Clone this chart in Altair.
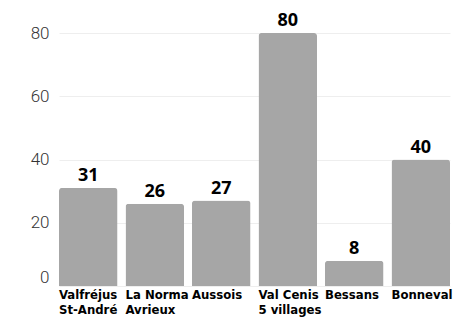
import altair as alt
import pandas as pd

stations = ["Valfréjus|St-André", "La Norma|Avrieux", "Aussois", "Val Cenis|5 villages", "Bessans", "Bonneval"]
values = [31, 26, 27, 80, 8, 40]

df = pd.DataFrame({"station": stations, "value": values})

xscale = alt.Scale(paddingInner=0.12, paddingOuter=0)

bars = alt.Chart(df).mark_bar(color="#a6a6a6", cornerRadiusTopLeft=3, cornerRadiusTopRight=3).encode(
    x=alt.X("station:N", sort=None, title=None, scale=xscale,
            axis=alt.Axis(labels=False, ticks=False, domain=False, grid=False)),
    y=alt.Y(
        "value:Q",
        title=None,
        scale=alt.Scale(domain=[0, 80], nice=False),
        axis=alt.Axis(
            values=[0, 20, 40, 60, 80],
            labelFont="Roboto",
            labelFontWeight=300,
            labelFontSize=17,
            labelColor="#333333",
            labelPadding=10,
            labelBaseline={"condition": {"test": "datum.value === 0", "value": "bottom"}, "value": "middle"},
            ticks=False,
            domain=False,
            gridColor="#eeeeee",
            gridWidth=1,
        ),
    ),
)

labels = alt.Chart(df).mark_text(
    baseline="bottom", dy=-3, font="Open Sans", fontWeight="bold", fontSize=18, color="#000000"
).encode(
    x=alt.X("station:N", sort=None),
    y="value:Q",
    text="value:Q",
)

xlabels = alt.Chart(df).mark_text(
    align="left", baseline="top", lineBreak="|", dy=3,
    font="DejaVu Sans Condensed", fontWeight="bold", fontSize=13, lineHeight=15, color="#000000"
).encode(
    x=alt.X("station:N", sort=None, bandPosition=0),
    y=alt.value(253),
    text="station:N",
)

chart = (bars + labels + xlabels).properties(
    width=391,
    height=253,
    autosize=alt.AutoSizeParams(type="none"),
    padding={"left": 51, "top": 25, "right": 12, "bottom": 34},
).configure_view(stroke=None)

chart.save("out.html", embed_options={"renderer": "svg", "actions": False})
